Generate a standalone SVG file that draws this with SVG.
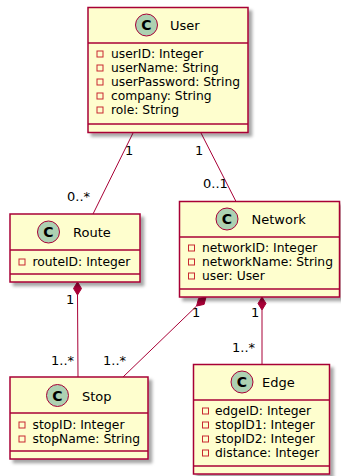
<svg xmlns="http://www.w3.org/2000/svg" width="341" height="476" viewBox="0 0 341 476">
  <defs>
    <filter id="shadow" x="-10%" y="-10%" width="130%" height="130%">
      <feDropShadow dx="3.5" dy="3.5" stdDeviation="1.8" flood-color="#000" flood-opacity="0.35"/>
    </filter>
    <style>
      .box { fill: #FEFECE; stroke: #A80036; stroke-width: 1.5; filter: url(#shadow); }
      .div { stroke: #A80036; stroke-width: 1.5; }
      .spot { fill: #ADD1B2; stroke: #A80036; stroke-width: 1; }
      .spotc { font-family: "DejaVu Sans", sans-serif; font-size: 14px; font-weight: bold; fill: #000; text-anchor: middle; }
      .name { font-family: "DejaVu Sans", sans-serif; font-size: 13px; fill: #000; }
      .attr { font-family: "DejaVu Sans", sans-serif; font-size: 12.3px; fill: #000; }
      .vis { fill: none; stroke: #C82930; stroke-width: 1; }
      .edge { stroke: #A80036; stroke-width: 1; fill: none; }
      .diamond { fill: #A80036; stroke: #A80036; stroke-width: 1; }
      .mult { font-family: "DejaVu Sans", sans-serif; font-size: 13px; fill: #000; }
    </style>
  </defs>

  <rect width="341" height="476" fill="#fff"/>

  <!-- associations and compositions -->
  <g id="connectors">
    <!-- User - Route -->
    <line class="edge" x1="133" y1="133" x2="93" y2="214"/>
    <text class="mult" x="125" y="155">1</text>
    <text class="mult" x="67" y="201">0..*</text>
    <!-- User - Network -->
    <line class="edge" x1="201" y1="133" x2="236" y2="201.5"/>
    <text class="mult" x="195" y="155">1</text>
    <text class="mult" x="203" y="188">0..1</text>
    <!-- Route *- Stop -->
    <polygon class="diamond" points="77.5,282 81.5,288.5 77.5,295 73.5,288.5"/>
    <line class="edge" x1="77.5" y1="295" x2="78" y2="377"/>
    <text class="mult" x="66" y="304">1</text>
    <text class="mult" x="51" y="365">1..*</text>
    <!-- Network *- Stop -->
    <polygon class="diamond" points="206,297 204.1,304.4 196.6,306 198.5,298.6"/>
    <line class="edge" x1="196.6" y1="306" x2="123" y2="377"/>
    <text class="mult" x="192" y="317">1</text>
    <text class="mult" x="103" y="365">1..*</text>
    <!-- Network *- Edge -->
    <polygon class="diamond" points="262,297 266,303.5 262,310 258,303.5"/>
    <line class="edge" x1="262" y1="310" x2="262" y2="364.5"/>
    <text class="mult" x="251" y="317">1</text>
    <text class="mult" x="232" y="352">1..*</text>
  </g>

  <g id="User">
    <rect class="box" x="88" y="7.5" width="160" height="125"/>
    <line class="div" x1="88" y1="43" x2="248" y2="43"/>
    <line class="div" x1="88" y1="124" x2="248" y2="124"/>
    <circle class="spot" cx="146.5" cy="25" r="11"/>
    <text class="spotc" x="146.5" y="30">C</text>
    <text class="name" x="170" y="30">User</text>
    <rect class="vis" x="97" y="51" width="6" height="6"/>
    <text class="attr" x="111" y="58">userID: Integer</text>
    <rect class="vis" x="97" y="65" width="6" height="6"/>
    <text class="attr" x="111" y="72">userName: String</text>
    <rect class="vis" x="97" y="79" width="6" height="6"/>
    <text class="attr" x="111" y="86">userPassword: String</text>
    <rect class="vis" x="97" y="93" width="6" height="6"/>
    <text class="attr" x="111" y="100">company: String</text>
    <rect class="vis" x="97" y="107" width="6" height="6"/>
    <text class="attr" x="111" y="114">role: String</text>
  </g>

  <g id="Route">
    <rect class="box" x="10" y="214" width="130" height="68"/>
    <line class="div" x1="10" y1="250" x2="140" y2="250"/>
    <line class="div" x1="10" y1="274" x2="140" y2="274"/>
    <circle class="spot" cx="48.5" cy="232" r="11"/>
    <text class="spotc" x="48.5" y="237">C</text>
    <text class="name" x="73" y="237">Route</text>
    <rect class="vis" x="19" y="259" width="6" height="6"/>
    <text class="attr" x="32.5" y="266">routeID: Integer</text>
  </g>

  <g id="Network">
    <rect class="box" x="179.5" y="201.5" width="160" height="95.5"/>
    <line class="div" x1="179.5" y1="237" x2="339.5" y2="237"/>
    <line class="div" x1="179.5" y1="289" x2="339.5" y2="289"/>
    <circle class="spot" cx="227" cy="219" r="11"/>
    <text class="spotc" x="227" y="224">C</text>
    <text class="name" x="251.5" y="224">Network</text>
    <rect class="vis" x="188.5" y="245" width="6" height="6"/>
    <text class="attr" x="202" y="252">networkID: Integer</text>
    <rect class="vis" x="188.5" y="259" width="6" height="6"/>
    <text class="attr" x="202" y="266">networkName: String</text>
    <rect class="vis" x="188.5" y="273" width="6" height="6"/>
    <text class="attr" x="202" y="280">user: User</text>
  </g>

  <g id="Stop">
    <rect class="box" x="10" y="377" width="138" height="82"/>
    <line class="div" x1="10" y1="413" x2="148" y2="413"/>
    <line class="div" x1="10" y1="451" x2="148" y2="451"/>
    <circle class="spot" cx="57.5" cy="395.5" r="11"/>
    <text class="spotc" x="57.5" y="400.5">C</text>
    <text class="name" x="82" y="400.5">Stop</text>
    <rect class="vis" x="19" y="422" width="6" height="6"/>
    <text class="attr" x="32.5" y="429">stopID: Integer</text>
    <rect class="vis" x="19" y="436" width="6" height="6"/>
    <text class="attr" x="32.5" y="443">stopName: String</text>
  </g>

  <g id="Edge">
    <rect class="box" x="193.5" y="364.5" width="136" height="109.5"/>
    <line class="div" x1="193.5" y1="400" x2="329.5" y2="400"/>
    <line class="div" x1="193.5" y1="466" x2="329.5" y2="466"/>
    <circle class="spot" cx="242" cy="382" r="11"/>
    <text class="spotc" x="242" y="387">C</text>
    <text class="name" x="262" y="387">Edge</text>
    <rect class="vis" x="202.5" y="408" width="6" height="6"/>
    <text class="attr" x="215" y="415">edgeID: Integer</text>
    <rect class="vis" x="202.5" y="422" width="6" height="6"/>
    <text class="attr" x="215" y="429">stopID1: Integer</text>
    <rect class="vis" x="202.5" y="436" width="6" height="6"/>
    <text class="attr" x="215" y="443">stopID2: Integer</text>
    <rect class="vis" x="202.5" y="450" width="6" height="6"/>
    <text class="attr" x="215" y="457">distance: Integer</text>
  </g>
</svg>
